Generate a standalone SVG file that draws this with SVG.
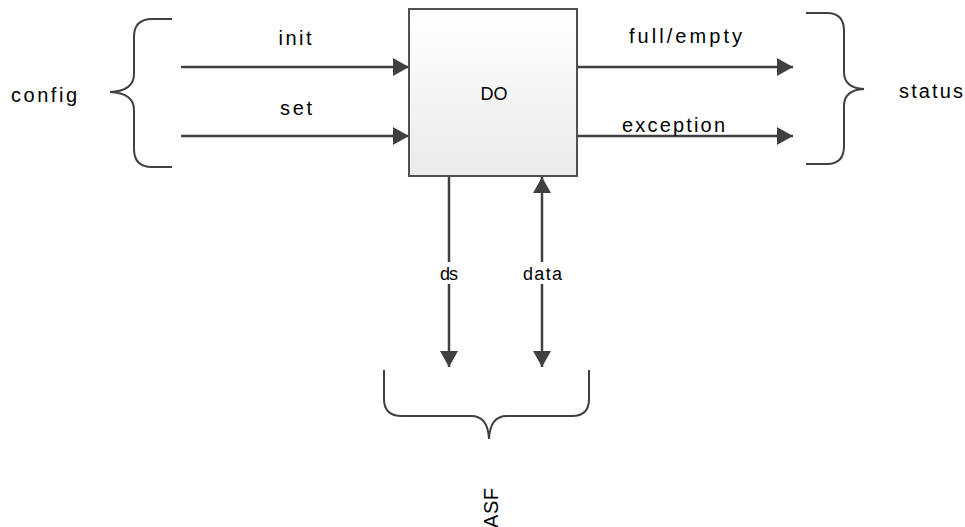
<svg xmlns="http://www.w3.org/2000/svg" width="965" height="527" viewBox="0 0 965 527">
<defs>
<linearGradient id="boxg" x1="0" y1="0" x2="0" y2="1">
<stop offset="0" stop-color="#ffffff"/>
<stop offset="1" stop-color="#ebebeb"/>
</linearGradient>
<marker id="ah" viewBox="0 0 16 18" refX="16" refY="9" markerWidth="16" markerHeight="18" markerUnits="userSpaceOnUse" orient="auto-start-reverse">
<path d="M0,0 L16,9 L0,18 Z" fill="#404040"/>
</marker>
<style>
text{font-family:"Liberation Sans",Arial,sans-serif;fill:#000}
.lbl{font-size:20px}
.sm{font-size:18px}
.wire{stroke:#404040;stroke-width:2.5;fill:none}
.brace{stroke:#404040;stroke-width:2;fill:none}
</style>
</defs>
<rect width="965" height="527" fill="#fff"/>
<g id="connectors">
<line class="wire" x1="181" y1="67" x2="409" y2="67" marker-end="url(#ah)"/>
<line class="wire" x1="181" y1="136" x2="409" y2="136" marker-end="url(#ah)"/>
<line class="wire" x1="577" y1="67" x2="793" y2="67" marker-end="url(#ah)"/>
<line class="wire" x1="577" y1="136" x2="793" y2="136" marker-end="url(#ah)"/>
<line class="wire" x1="449" y1="176" x2="449" y2="367" marker-end="url(#ah)"/>
<line class="wire" x1="542" y1="177" x2="542" y2="367" marker-start="url(#ah)" marker-end="url(#ah)"/>
<rect x="436" y="262" width="26" height="22" fill="#fff"/>
<rect x="520" y="262" width="44" height="22" fill="#fff"/>
<text class="lbl" x="295" y="45" text-anchor="middle" textLength="33" lengthAdjust="spacing">init</text>
<text class="lbl" x="296" y="115" text-anchor="middle" textLength="32" lengthAdjust="spacing">set</text>
<text class="lbl" x="629" y="43" textLength="113" lengthAdjust="spacing">full/empty</text>
<text class="lbl" x="622" y="132" textLength="103" lengthAdjust="spacing">exception</text>
<text class="sm" x="440" y="280" textLength="18" lengthAdjust="spacing">ds</text>
<text class="sm" x="523" y="280" textLength="39" lengthAdjust="spacing">data</text>
</g>
<g id="DO">
<rect x="409" y="9" width="168" height="167" fill="url(#boxg)" stroke="#505050" stroke-width="2"/>
<text class="sm" x="494" y="100" text-anchor="middle">DO</text>
</g>
<g id="config">
<path class="brace" d="M172,19 H152 Q134,19 134,37 V74 Q134,91 110,92 Q134,93 134,110 V149 Q134,167 152,167 H172"/>
<text class="lbl" x="11" y="102" textLength="66" lengthAdjust="spacing">config</text>
</g>
<g id="status">
<path class="brace" d="M806,13 H827 Q844,13 844,31 V72 Q844,88 864,89 Q844,90 844,106 V146 Q844,164 827,164 H806"/>
<text class="lbl" x="899" y="98" textLength="64" lengthAdjust="spacing">status</text>
</g>
<g id="ASF">
<path class="brace" d="M384,370 V399 Q384,416 402,416 H471 Q488,416 489,439 Q490,416 507,416 H572 Q589,416 589,399 V370"/>
<text class="lbl" transform="translate(498,528) rotate(-90)" textLength="40" lengthAdjust="spacing">ASF</text>
</g>
</svg>
